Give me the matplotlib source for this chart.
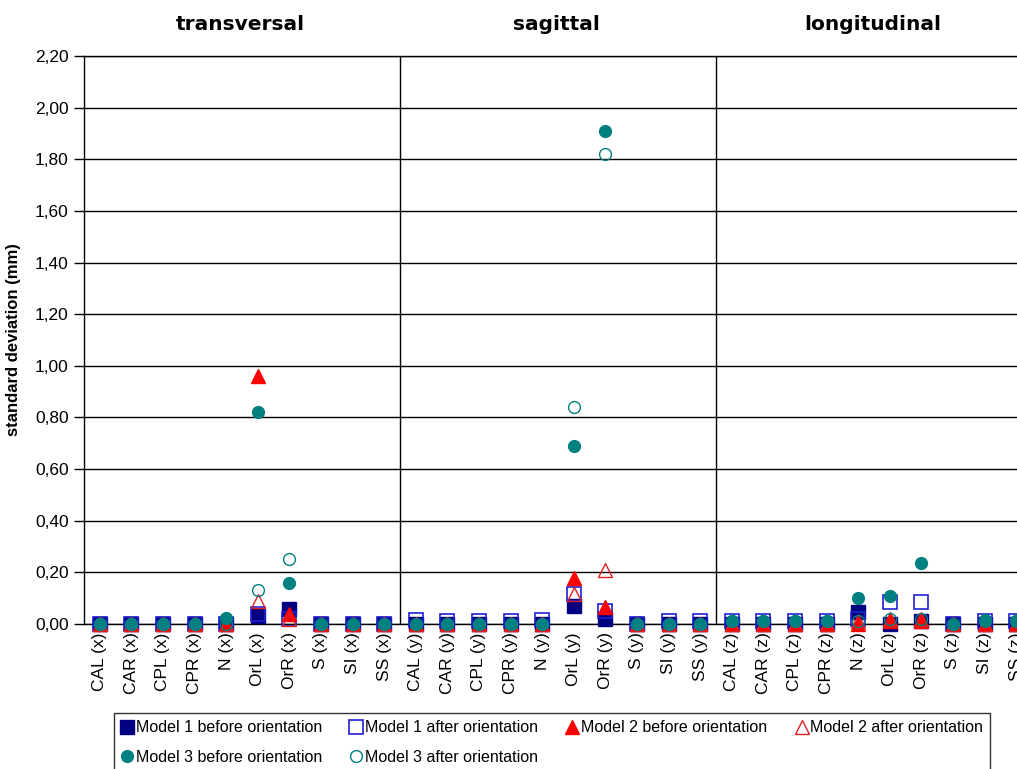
import matplotlib
matplotlib.use("Agg")
import matplotlib.pyplot as plt
from matplotlib.ticker import FuncFormatter

landmarks = ["CAL", "CAR", "CPL", "CPR", "N", "OrL", "OrR", "S", "SI", "SS"]
axes_names = ["x", "y", "z"]
categories = [f"{lm} ({a})" for a in axes_names for lm in landmarks]
sections = ["transversal", "sagittal", "longitudinal"]

# standard deviation (mm), order: 10 x-values, 10 y-values, 10 z-values
m1_before = [0, 0, 0, 0, 0, 0.03, 0.06, 0, 0, 0,
             0, 0, 0, 0, 0, 0.07, 0.02, 0, 0, 0,
             0, 0, 0, 0, 0.045, 0, 0.01, 0, 0, 0]
m1_after = [0, 0, 0, 0, 0, 0.04, 0.02, 0, 0, 0,
            0.015, 0.01, 0.01, 0.01, 0.015, 0.115, 0.05, 0, 0.01, 0.01,
            0.01, 0.01, 0.01, 0.01, 0.02, 0.085, 0.085, 0, 0.01, 0.01]
m2_before = [0, 0, 0, 0, 0, 0.96, 0.04, 0, 0, 0,
             0, 0, 0, 0, 0, 0.18, 0.065, 0, 0, 0,
             0, 0, 0, 0, 0, 0.01, 0.01, 0, 0, 0]
m2_after = [0, 0, 0, 0, 0, 0.09, 0.02, 0, 0, 0,
            0, 0, 0, 0, 0, 0.115, 0.21, 0, 0, 0,
            0, 0, 0, 0, 0.01, 0.02, 0.02, 0, 0, 0]
m3_before = [0, 0, 0, 0, 0.025, 0.82, 0.16, 0, 0, 0,
             0, 0, 0, 0, 0, 0.69, 1.91, 0, 0, 0,
             0.01, 0.01, 0.01, 0.01, 0.10, 0.11, 0.235, 0, 0.015, 0.01]
m3_after = [0, 0, 0, 0, 0, 0.13, 0.25, 0, 0, 0,
            0, 0, 0, 0, 0, 0.84, 1.82, 0, 0, 0,
            0.01, 0.01, 0.01, 0.01, 0.01, 0.02, 0.02, 0, 0.01, 0.01]

navy = "#000080"
blue = "#2020d0"
red = "#ff0000"
teal = "#008080"

series = [
    ("Model 1 before orientation", m1_before, dict(marker="s", ms=10, mfc=navy, mec=navy)),
    ("Model 1 after orientation", m1_after, dict(marker="s", ms=10, mfc="none", mec=blue, mew=1.2)),
    ("Model 2 before orientation", m2_before, dict(marker="^", ms=10, mfc=red, mec=red)),
    ("Model 2 after orientation", m2_after, dict(marker="^", ms=10, mfc="none", mec="#e02020", mew=1.0)),
    ("Model 3 before orientation", m3_before, dict(marker="o", ms=8.5, mfc=teal, mec=teal)),
    ("Model 3 after orientation", m3_after, dict(marker="o", ms=8.5, mfc="none", mec=teal, mew=1.0)),
]

fig = plt.figure(figsize=(10.17, 7.69), dpi=100)
ax = fig.add_axes([84 / 1017, 145 / 769, 948 / 1017, 568 / 769])

x = list(range(len(categories)))
handles = []
for label, vals, style in series:
    h, = ax.plot(x, vals, linestyle="none", clip_on=False, zorder=3, label=label, **style)
    handles.append(h)

ax.set_xlim(-0.5, len(categories) - 0.5)
ax.set_ylim(0, 2.2)
ax.set_yticks([i * 0.2 for i in range(12)])
ax.yaxis.set_major_formatter(FuncFormatter(lambda v, p: f"{v:.2f}".replace(".", ",")))
ax.yaxis.grid(True, color="black", lw=1)
ax.set_axisbelow(True)
for xv in [9.5, 19.5]:
    ax.axvline(xv, color="black", lw=1, zorder=1)

ax.set_xticks(x)
ax.set_xticklabels(categories, rotation=90, fontsize=12.5, family="Liberation Sans")
ax.tick_params(axis="x", length=0, pad=6)
ax.tick_params(axis="y", length=7, width=1, labelsize=12.5, direction="out", pad=4)
for t in ax.get_yticklabels():
    t.set_family("Liberation Sans")
for s in ax.spines.values():
    s.set_color("black")
    s.set_linewidth(1)

ax.set_ylabel("standard deviation (mm)", fontsize=12, fontweight="bold",
              family="Liberation Sans", labelpad=10)

for i, name in enumerate(sections):
    ax.text(i * 10 + 4.45, 1.0546, name, transform=ax.get_xaxis_transform(),
            ha="center", va="center", fontsize=14.5, fontweight="bold", family="DejaVu Sans")

# row-major order for a 4-column legend
order = [0, 4, 1, 5, 2, 3]
leg = fig.legend([handles[i] for i in order], [series[i][0] for i in order],
                 loc="upper left", bbox_to_anchor=(114 / 1017, 1 - 713 / 769),
                 ncol=4, frameon=True, fancybox=False, edgecolor="black",
                 prop={"family": "Liberation Sans", "size": 11.5},
                 handlelength=0.7, handletextpad=0.2, columnspacing=1.8,
                 borderpad=0.45, labelspacing=0.9, borderaxespad=0)
leg.get_frame().set_linewidth(1)

fig.savefig("out.png", dpi=100)
